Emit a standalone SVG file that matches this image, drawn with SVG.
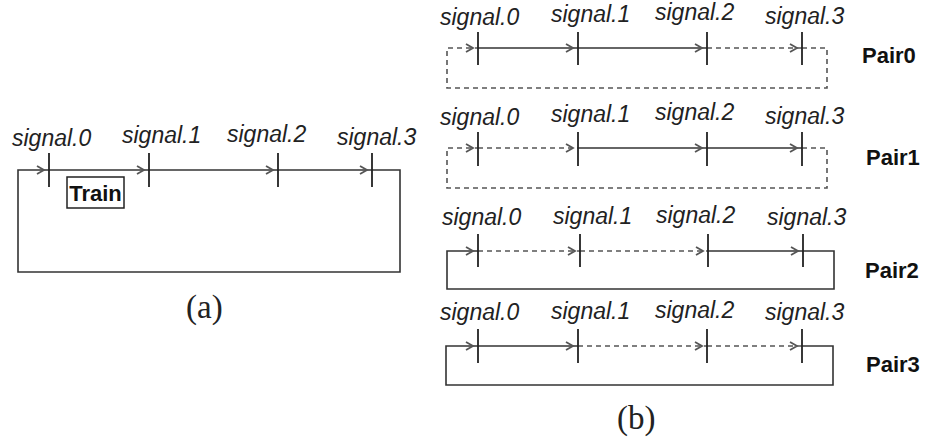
<svg xmlns="http://www.w3.org/2000/svg" width="925" height="443" viewBox="0 0 925 443">
<style>
.sig{font-family:"Liberation Sans",Arial,sans-serif;font-style:italic;font-size:23px;fill:#222}
.pair{font-family:"Liberation Sans",Arial,sans-serif;font-weight:bold;font-size:22px;fill:#111}
.cap{font-family:"Liberation Serif","Times New Roman",serif;font-size:33px;fill:#222}
.ln{fill:none;stroke:#333;stroke-width:1.6}
.ds{fill:none;stroke:#555;stroke-width:1.6;stroke-dasharray:5 4}
.tk{stroke:#222;stroke-width:1.8}
.ar{marker-end:url(#arr)}
</style>
<defs>
<marker id="arr" markerUnits="userSpaceOnUse" markerWidth="15" markerHeight="11" refX="13" refY="5" orient="auto" overflow="visible">
<path d="M1,1 L8,5 L1,9" fill="none" stroke="#555" stroke-width="1.8"/>
</marker>
</defs>

<g id="diagram-a">
<g id="a-labels">
<text class="sig" x="12" y="146">signal.0</text>
<text class="sig" x="122" y="143">signal.1</text>
<text class="sig" x="227" y="142">signal.2</text>
<text class="sig" x="337" y="145">signal.3</text>
</g>
<g id="a-connectors">
<path class="ln ar" d="M372,170 H400 V272 H18 V170 H49"/>
<path class="ln ar" d="M49,170 H149"/>
<path class="ln ar" d="M149,170 H278"/>
<path class="ln ar" d="M278,170 H372"/>
</g>
<g id="a-signals">
<line class="tk" x1="49" y1="153" x2="49" y2="187"/>
<line class="tk" x1="149" y1="153" x2="149" y2="187"/>
<line class="tk" x1="278" y1="153" x2="278" y2="187"/>
<line class="tk" x1="372" y1="153" x2="372" y2="187"/>
</g>
<g id="train">
<rect x="67" y="177" width="57" height="31" fill="#fff" stroke="#222" stroke-width="1.5"/>
<text x="95.5" y="201" text-anchor="middle" font-family="Liberation Sans, Arial, sans-serif" font-weight="bold" font-size="22" fill="#111">Train</text>
</g>
<text class="cap" x="186" y="318">(a)</text>
</g>

<g id="pair0">
<text class="sig" x="440" y="25">signal.0</text>
<text class="sig" x="551" y="22">signal.1</text>
<text class="sig" x="655" y="20">signal.2</text>
<text class="sig" x="765" y="24">signal.3</text>
<g id="pair0-connectors">
<path class="ds ar" d="M802,48 H827 V88 H447 V48 H478"/>
<path class="ln ar" d="M478,48 H578"/>
<path class="ln ar" d="M578,48 H707"/>
<path class="ds ar" d="M707,48 H802"/>
</g>
<line class="tk" x1="478" y1="32" x2="478" y2="65"/>
<line class="tk" x1="578" y1="32" x2="578" y2="65"/>
<line class="tk" x1="707" y1="32" x2="707" y2="65"/>
<line class="tk" x1="802" y1="32" x2="802" y2="65"/>
<text class="pair" x="862" y="63">Pair0</text>
</g>

<g id="pair1">
<text class="sig" x="440" y="125">signal.0</text>
<text class="sig" x="551" y="122">signal.1</text>
<text class="sig" x="655" y="120">signal.2</text>
<text class="sig" x="765" y="124">signal.3</text>
<g id="pair1-connectors">
<path class="ds ar" d="M802,148 H827 V188 H447 V148 H478"/>
<path class="ds ar" d="M478,148 H578"/>
<path class="ln ar" d="M578,148 H707"/>
<path class="ln ar" d="M707,148 H802"/>
</g>
<line class="tk" x1="478" y1="132" x2="478" y2="166"/>
<line class="tk" x1="578" y1="132" x2="578" y2="166"/>
<line class="tk" x1="707" y1="132" x2="707" y2="166"/>
<line class="tk" x1="802" y1="132" x2="802" y2="166"/>
<text class="pair" x="866" y="165">Pair1</text>
</g>

<g id="pair2">
<text class="sig" x="442" y="225">signal.0</text>
<text class="sig" x="553" y="224">signal.1</text>
<text class="sig" x="656" y="223">signal.2</text>
<text class="sig" x="767" y="225">signal.3</text>
<g id="pair2-connectors">
<path class="ln ar" d="M803,251 H834 V289 H447 V251 H478"/>
<path class="ds ar" d="M478,251 H580"/>
<path class="ds ar" d="M580,251 H708"/>
<path class="ln ar" d="M708,251 H803"/>
</g>
<line class="tk" x1="478" y1="234" x2="478" y2="267"/>
<line class="tk" x1="580" y1="234" x2="580" y2="267"/>
<line class="tk" x1="708" y1="234" x2="708" y2="267"/>
<line class="tk" x1="803" y1="234" x2="803" y2="267"/>
<text class="pair" x="865" y="278">Pair2</text>
</g>

<g id="pair3">
<text class="sig" x="440" y="320">signal.0</text>
<text class="sig" x="551" y="319">signal.1</text>
<text class="sig" x="655" y="318">signal.2</text>
<text class="sig" x="765" y="320">signal.3</text>
<g id="pair3-connectors">
<path class="ln ar" d="M802,346 H833 V385 H446 V346 H478"/>
<path class="ln ar" d="M478,346 H578"/>
<path class="ds ar" d="M578,346 H707"/>
<path class="ds ar" d="M707,346 H802"/>
</g>
<line class="tk" x1="478" y1="329" x2="478" y2="363"/>
<line class="tk" x1="578" y1="329" x2="578" y2="363"/>
<line class="tk" x1="707" y1="329" x2="707" y2="363"/>
<line class="tk" x1="802" y1="329" x2="802" y2="363"/>
<text class="pair" x="866" y="372">Pair3</text>
</g>

<text class="cap" x="617" y="429">(b)</text>
</svg>
